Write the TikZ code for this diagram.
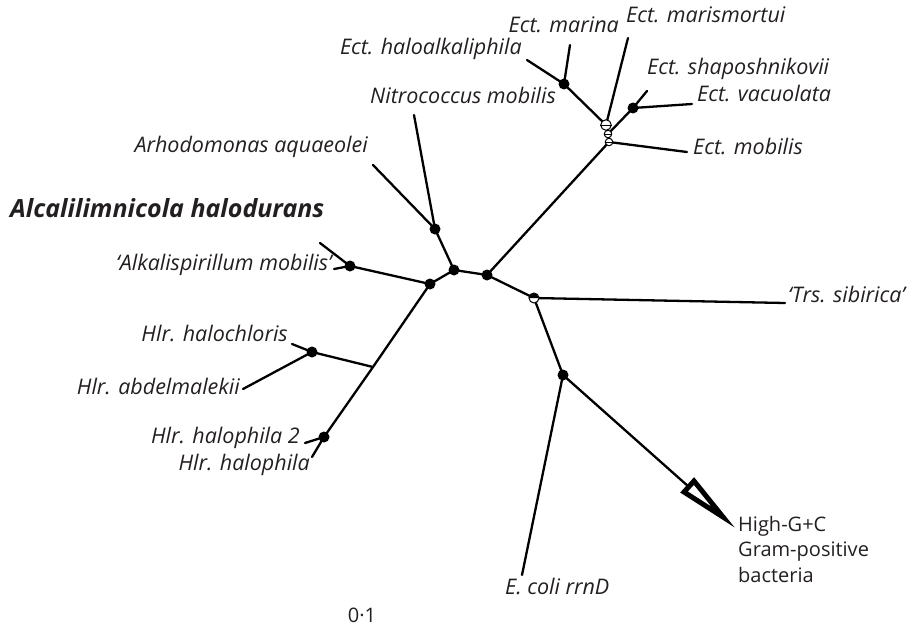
\documentclass[tikz,border=0pt]{standalone}
\usepackage{fontspec}
\setmainfont{Open Sans}
\usetikzlibrary{backgrounds}
\definecolor{labcol}{RGB}{35,31,32}
\tikzset{
  br/.style={line width=2.3pt, line cap=round},
  dot/.style={circle, fill=black, inner sep=0pt, minimum size=11pt},
  odot/.style={circle, draw=black, fill=white, line width=1pt, inner sep=0pt, minimum size=10pt},
  lab/.style={font=\fontsize{21.5}{24}\selectfont\itshape, inner sep=0pt, text=labcol},
  uplab/.style={font=\fontsize{20}{25.5}\selectfont, inner sep=0pt, text=labcol, align=left},
  biglab/.style={font=\fontsize{25}{28}\selectfont\bfseries\itshape, inner sep=0pt, text=labcol},
}
\begin{document}
\begin{tikzpicture}[x=1pt,y=-1pt]
\useasboundingbox (0,0) rectangle (911,632);
% internal nodes
\node[dot] (M) at (564,84) {};
\node[odot,minimum size=10.5pt] (O1) at (606,125) {};
\node[odot,minimum size=7.5pt] (O2) at (608,134) {};
\node[odot,minimum size=7.5pt] (O3) at (609,142) {};
\node[dot] (V) at (633,108) {};
\node[dot] (D) at (435,229) {};
\node[dot] (A) at (454,270) {};
\node[dot] (B) at (487,275) {};
\node[dot] (C) at (430,284) {};
\node[dot] (E) at (350,266) {};
\node[odot] (F) at (534,298) {};
\coordinate (J) at (373,367);
\node[dot] (H1) at (312,352) {};
\node[dot] (H2) at (324,437) {};
\node[dot] (G) at (563,375) {};
% free ends
\coordinate (eMarina) at (570,45);
\coordinate (eHaloalk) at (527,60);
\coordinate (eMarism) at (628,38);
\coordinate (eShapo) at (647,91);
\coordinate (eVacuo) at (692,104);
\coordinate (eMobilis) at (687,152);
\coordinate (eNitro) at (414,115);
\coordinate (eArhodo) at (373,165);
\coordinate (eAlcali) at (320,243);
\coordinate (eAlkali) at (334,269);
\coordinate (eHalochl) at (292,344);
\coordinate (eAbdel) at (243,389);
\coordinate (eHaloph2) at (305,443);
\coordinate (eHaloph) at (312,457);
\coordinate (eTrs) at (785,303);
\coordinate (eEcoli) at (522,575);
\coordinate (aB) at (689,487);
\coordinate (aL) at (684,492);
\coordinate (aR) at (694,481);
\coordinate (aT) at (723,517);
% branches
\begin{scope}[on background layer]
\draw[br] (M.center) -- (eMarina);
\draw[br] (M.center) -- (eHaloalk);
\draw[br] (M.center) -- (O1.center);
\draw[br] (O1.center) -- (eMarism);
\draw[br] (O1.center) -- (O2.center);
\draw[br] (O2.center) -- (V.center);
\draw[br] (O2.center) -- (O3.center);
\draw[br] (V.center) -- (eShapo);
\draw[br] (V.center) -- (eVacuo);
\draw[br] (O3.center) -- (eMobilis);
\draw[br] (O3.center) -- (B.center);
\draw[br] (B.center) -- (A.center);
\draw[br] (B.center) -- (F.center);
\draw[br] (A.center) -- (D.center);
\draw[br] (A.center) -- (C.center);
\draw[br] (D.center) -- (eNitro);
\draw[br] (D.center) -- (eArhodo);
\draw[br] (C.center) -- (E.center);
\draw[br] (C.center) -- (J);
\draw[br] (E.center) -- (eAlcali);
\draw[br] (E.center) -- (eAlkali);
\draw[br] (J) -- (H1.center);
\draw[br] (J) -- (H2.center);
\draw[br] (H1.center) -- (eHalochl);
\draw[br] (H1.center) -- (eAbdel);
\draw[br] (H2.center) -- (eHaloph2);
\draw[br] (H2.center) -- (eHaloph);
\draw[br] (F.center) -- (eTrs);
\draw[br] (F.center) -- (G.center);
\draw[br] (G.center) -- (eEcoli);
\draw[br] (G.center) -- (aB);
\end{scope}
% open symbols detail
\draw[line width=0.8pt] (O1.west) -- (O1.east);
\draw[line width=0.8pt] (O2.west) -- (O2.east);
\draw[line width=0.8pt] (O3.west) -- (O3.east);
\fill[black] (F.west) arc[start angle=180, end angle=0, radius=5pt] -- cycle;
% arrow wedge
\draw[line width=5pt, fill=white, line join=miter] (aL) -- (aT) -- (aR) -- cycle;
% labels
\node[lab, anchor=mid east] (tMarina) at (619,30) {Ect. marina};
\node[lab, anchor=mid west] (tMarism) at (626,20) {Ect. marismortui};
\node[lab, anchor=mid east] (tHaloalk) at (522,52) {Ect. haloalkaliphila};
\node[lab, anchor=mid west] (tNitro) at (370,101) {Nitrococcus mobilis};
\node[lab, anchor=mid west] (tShapo) at (647,72) {Ect. shaposhnikovii};
\node[lab, anchor=mid west] (tVacuo) at (697,99) {Ect. vacuolata};
\node[lab, anchor=mid west] (tMobilis) at (693,152) {Ect. mobilis};
\node[lab, anchor=mid east] (tArhodo) at (368,150) {Arhodomonas aquaeolei};
\node[biglab, anchor=mid west] (tAlcali) at (10,215) {Alcalilimnicola halodurans};
\node[lab, anchor=mid east] (tAlkali) at (332,268) {‘Alkalispirillum mobilis’};
\node[lab, anchor=mid west] (tTrs) at (788,300) {‘Trs. sibirica’};
\node[lab, anchor=mid east] (tHalochl) at (288,339) {Hlr. halochloris};
\node[lab, anchor=mid east] (tAbdel) at (240,392) {Hlr. abdelmalekii};
\node[lab, anchor=mid east] (tHaloph2) at (300,441) {Hlr. halophila 2};
\node[lab, anchor=mid east] (tHaloph) at (310,468) {Hlr. halophila};
\node[lab, anchor=mid west] (tEcoli) at (505,592) {E. coli rrnD};
\node[uplab, anchor=west] (tHigh) at (738,549) {High-G+C\\Gram-positive\\bacteria};
\node[uplab] (tScale) at (362,615) {0·1};
\end{tikzpicture}
\end{document}
